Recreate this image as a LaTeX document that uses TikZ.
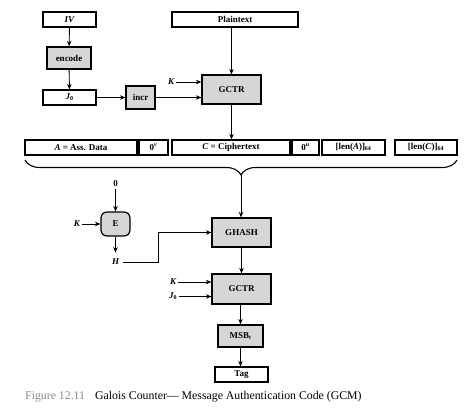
\documentclass[tikz,border=0pt]{standalone}
\usepackage{fontspec}
\setmainfont{Liberation Serif}
\usetikzlibrary{arrows.meta,decorations.pathreplacing}
\definecolor{boxgray}{HTML}{D6D6D6}
\definecolor{capgray}{HTML}{8A8A8A}
\begin{document}
\begin{tikzpicture}[x=1pt,y=-1pt,
  every node/.style={font=\fontsize{9}{10}\selectfont\bfseries, inner sep=0pt},
  wbox/.style={draw, line width=1.2pt, fill=white},
  gbox/.style={draw, line width=1.2pt, fill=boxgray},
  lbl/.style={font=\fontsize{9}{10}\selectfont\bfseries\itshape},
  arr/.style={line width=0.9pt, -{Stealth[length=5.5pt,width=4.5pt]}},
  ln/.style={line width=1.1pt}]
\useasboundingbox (0,0) rectangle (474,417);
% top part
\node[wbox, minimum width=53pt, minimum height=15pt] (iv) at (69.5,19.5) {\itshape IV};
\node[gbox, minimum width=44pt, minimum height=22pt] (enc) at (69,58) {encode};
\node[wbox, minimum width=53pt, minimum height=15pt] (j0) at (69.5,97.5) {\itshape J\textsubscript{\upshape 0}};
\node[gbox, minimum width=29pt, minimum height=23pt] (incr) at (140.5,97.5) {incr};
\node[gbox, minimum width=59pt, minimum height=29pt] (gctr) at (231.5,89.5) {GCTR};
\node[wbox, minimum width=126pt, minimum height=15pt] (pt) at (235,19.5) {Plaintext};
\node[lbl] (k1) at (171,82) {K};
\draw[arr] (iv) -- (enc);
\draw[arr] (enc) -- (j0);
\draw[arr] (j0) -- (incr);
\draw[arr] (incr.east) -- (incr.east -| gctr.west);
\draw[arr] (k1.east) ++(2,0) coordinate (k1e) -- (k1e -| gctr.west);
\draw[arr] (pt.south -| gctr) -- (gctr);
% row
\node[wbox, minimum width=112pt, minimum height=15pt] (ad) at (81,147.5) {\itshape A\upshape\ = Ass. Data};
\node[wbox, minimum width=29pt, minimum height=15pt] (zv) at (153.5,147.5) {0\textsuperscript{\itshape v}};
\node[wbox, minimum width=118pt, minimum height=15pt] (ct) at (231,147.5) {\itshape C\upshape\ = Ciphertext};
\node[wbox, minimum width=27pt, minimum height=15pt] (zu) at (305.5,147.5) {0\textsuperscript{\itshape u}};
\node[wbox, minimum width=63pt, minimum height=15pt] (la) at (353.5,147.5) {[len(\textit{A})]\textsubscript{64}};
\node[wbox, minimum width=62pt, minimum height=15pt] (lc) at (426,147.5) {[len(\textit{C})]\textsubscript{64}};
\draw[arr] (gctr.south) -- (gctr.south |- ct.north);
\draw[ln, decorate, decoration={brace, mirror, amplitude=15pt}] (25,160) -- (457,160);
\coordinate (tip) at (241,175);
% lower part
\node (zero) at (115.5,184) {0};
\node[gbox, minimum width=29pt, minimum height=24pt, rounded corners=6pt] (e) at (115.5,224) {E};
\node[lbl] (k2) at (77,224) {K};
\node[lbl] (h) at (115.5,262) {H};
\node[gbox, minimum width=59pt, minimum height=29pt] (ghash) at (241.5,232.5) {GHASH};
\node[gbox, minimum width=59pt, minimum height=30pt] (gctr2) at (241.5,289) {GCTR};
\node[lbl] (k3) at (173,282) {K};
\node[lbl] (j02) at (173,296.5) {J\textsubscript{\upshape 0}};
\node[gbox, minimum width=45pt, minimum height=22pt] (msb) at (240.5,336) {MSB\textsubscript{\itshape t}};
\node[wbox, minimum width=53pt, minimum height=15pt] (tag) at (241.5,374.5) {Tag};
\draw[arr] (zero.south) ++(0,2) -- (e.north);
\draw[arr] (k2.east) ++(2,0) coordinate (k2e) -- (e.west);
\draw[arr] (e.south) -- ++(0,16);
\draw[arr] (h.east) ++(4,0) -- (158,262) |- (ghash.west);
\draw[arr] (tip) -- (tip |- ghash.north);
\draw[arr] (ghash) -- (gctr2);
\draw[arr] (k3.east) ++(2,0) coordinate (k3e) -- (k3e -| gctr2.west);
\draw[arr] (j02.east) ++(2,0) coordinate (j0e) -- (j0e -| gctr2.west);
\draw[arr] (gctr2.south -| msb) -- (msb);
\draw[arr] (msb) -- (msb |- tag.north);
% caption
\node[anchor=base west, font=\fontsize{11.8}{13}\selectfont, text=capgray] (fig) at (25,399) {Figure 12.11};
\node[anchor=base west, font=\fontsize{11.8}{13}\selectfont] (cap) at (95,399) {Galois Counter--- Message Authentication Code (GCM)};
\end{tikzpicture}
\end{document}
